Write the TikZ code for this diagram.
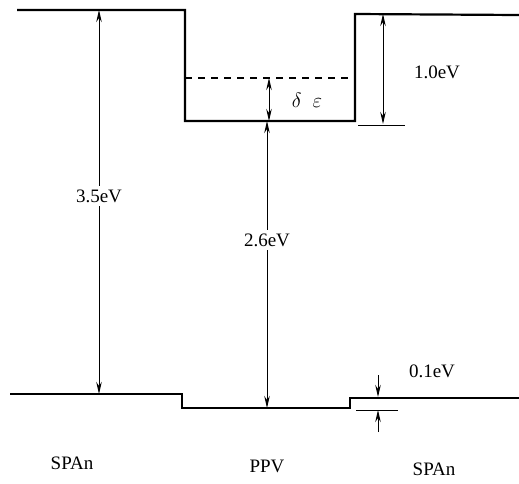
\documentclass[tikz,border=0pt]{standalone}
\usepackage{fontspec}
\setmainfont{Liberation Serif}
\usetikzlibrary{arrows.meta}
\begin{document}
\begin{tikzpicture}[x=1pt,y=-1pt,
  level/.style={line width=2.2pt},
  dim/.style={line width=1pt},
  dimarrow/.style={line width=1pt,-{Stealth[length=12pt,width=5.5pt]}},
  dimboth/.style={line width=1pt,{Stealth[length=12pt,width=5.5pt]}-{Stealth[length=12pt,width=5.5pt]}},
  lab/.style={font=\fontsize{19}{22}\selectfont,inner sep=1pt},
  gaplab/.style={lab,fill=white,inner sep=4pt}]
\useasboundingbox (0,0) rectangle (519,483);
% conduction band
\coordinate (cbL0) at (17,10);
\coordinate (cbL1) at (185,10);
\coordinate (cbP0) at (185,121);
\coordinate (cbP1) at (355,121);
\coordinate (cbR0) at (355,14);
\coordinate (cbR1) at (519,15);
\draw[level,line join=miter] (cbL0) -- (cbL1) -- (cbP0) -- (cbP1) -- (cbR0) -- (cbR1);
% dashed level
\coordinate (dsh0) at (185,78);
\coordinate (dsh1) at (355,78);
\draw[level,dash pattern=on 7pt off 6pt] (dsh0) -- (dsh1);
% valence band
\coordinate (vbL0) at (10,394);
\coordinate (vbL1) at (182,394);
\coordinate (vbP0) at (182,408);
\coordinate (vbP1) at (350,408);
\coordinate (vbR0) at (350,398);
\coordinate (vbR1) at (519,398);
\draw[level,line join=miter] (vbL0) -- (vbL1) -- (vbP0) -- (vbP1) -- (vbR0) -- (vbR1);
% 3.5 eV
\coordinate (a35t) at (99,10);
\coordinate (a35b) at (99,394);
\draw[dimboth] (a35t) -- (a35b);
\node[gaplab] (l35) at (99,196) {3.5eV};
% 2.6 eV
\coordinate (a26t) at (267,121);
\coordinate (a26b) at (267,408);
\draw[dimboth] (a26t) -- (a26b);
\node[gaplab] (l26) at (267,240) {2.6eV};
% delta epsilon
\coordinate (det) at (269,78);
\coordinate (deb) at (269,121);
\draw[dimboth] (det) -- (deb);
\node[inner sep=1pt,font=\fontsize{22}{24}\selectfont] (lde) at (307,100) {$\delta\ \ \varepsilon$};
% 1.0 eV
\coordinate (a10t) at (383,14);
\coordinate (a10b) at (383,124);
\draw[dimboth] (a10t) -- (a10b);
\coordinate (t10a) at (358,125);
\coordinate (t10b) at (405,125);
\draw[dim] (t10a) -- (t10b);
\node[lab] (l10) at (437,72) {1.0eV};
% 0.1 eV
\coordinate (a01s) at (378,375);
\coordinate (a01e) at (378,397);
\draw[dimarrow] (a01s) -- (a01e);
\coordinate (a01s2) at (378,432);
\coordinate (a01e2) at (378,410);
\draw[dimarrow] (a01s2) -- (a01e2);
\coordinate (t01a) at (356,410);
\coordinate (t01b) at (398,410);
\draw[dim] (t01a) -- (t01b);
\node[lab] (l01) at (432,371) {0.1eV};
% material labels
\node[lab] (m1) at (72,463) {SPAn};
\node[lab] (m2) at (267,466) {PPV};
\node[lab] (m3) at (434,469) {SPAn};
\end{tikzpicture}
\end{document}
